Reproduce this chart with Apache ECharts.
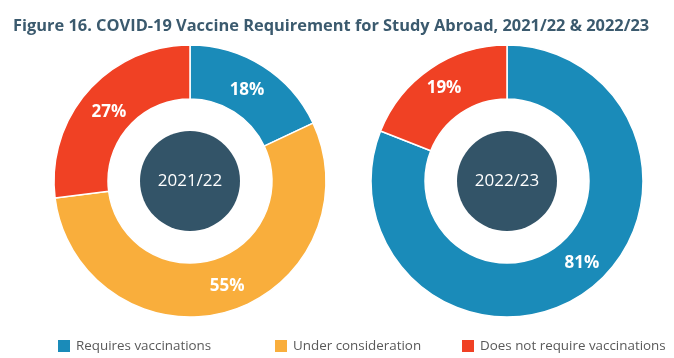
<!DOCTYPE html>
<html>
<head>
<meta charset="utf-8">
<script src="https://cdn.jsdelivr.net/npm/echarts@6/dist/echarts.min.js"></script>
<style>
html,body{margin:0;padding:0;background:#fff;}
#chart{width:674px;height:358px;}
</style>
</head>
<body>
<div id="chart"></div>
<script>
var titleText = 'Figure 16. COVID-19 Vaccine Requirement for Study Abroad, 2021/22 & 2022/23';
var categories = ['Requires vaccinations', 'Under consideration', 'Does not require vaccinations'];
var colors = ['#1a8bb9', '#f9ae3c', '#f04124'];
var years = ['2021/22', '2022/23'];
var values2021 = [18, 55, 27];
var values2022 = [81, 0, 19];

function ringData(vals, k) {
  var out = [];
  vals.forEach(function (v, i) {
    if (v > 0) {
      var d = { name: categories[i], value: v, itemStyle: { color: colors[i] } };
      if (k === 1 && i === 0) d.label = { offset: [12, -10] };
      if (k === 0 && i === 1) d.label = { offset: [6, -2] };
      if (k === 0 && i === 2) d.label = { offset: [3, 5] };
      if (k === 0 && i === 0) d.label = { offset: [-3, 4] };
      out.push(d);
    }
  });
  return out;
}

var centers = [[190, 181], [507, 181]];
var allVals = [values2021, values2022];
var series = [];
allVals.forEach(function (vals, k) {
  series.push({
    type: 'pie',
    center: centers[k],
    radius: [82, 136],
    startAngle: 90,
    clockwise: true,
    silent: true,
    avoidLabelOverlap: false,
    itemStyle: { borderColor: '#ffffff', borderWidth: 1.5 },
    label: {
      show: true,
      position: 'inside',
      formatter: '{c}%',
      color: '#ffffff',
      fontFamily: 'Open Sans',
      fontWeight: 'bold',
      fontSize: 17
    },
    labelLine: { show: false },
    data: ringData(vals, k)
  });
  series.push({
    type: 'pie',
    center: centers[k],
    radius: [0, 50],
    silent: true,
    legendHoverLink: false,
    itemStyle: { color: '#335468' },
    label: {
      show: true,
      position: 'center',
      formatter: years[k],
      color: '#ffffff',
      fontFamily: 'Open Sans',
      fontSize: 17
    },
    labelLine: { show: false },
    data: [{ name: 'center' + k, value: 1 }]
  });
});

var legendLefts = [51, 268, 455];
var legends = categories.map(function (c, i) {
  return {
    left: legendLefts[i],
    top: 333,
    icon: 'rect',
    itemWidth: 14,
    itemHeight: 14,
    itemGap: 0,
    selectedMode: false,
    textStyle: { color: '#595959', fontSize: 13.4, fontFamily: 'Open Sans' },
    data: [{ name: c, itemStyle: { color: colors[i] } }]
  };
});

var chart = echarts.init(document.getElementById('chart'));
chart.setOption({
  animation: false,
  backgroundColor: '#ffffff',
  title: {
    text: titleText,
    left: 8,
    top: 13,
    textStyle: { color: '#3b5a6e', fontSize: 16.4, fontWeight: 'bold', fontFamily: 'Open Sans' }
  },
  legend: legends,
  series: series
});
</script>
</body>
</html>
